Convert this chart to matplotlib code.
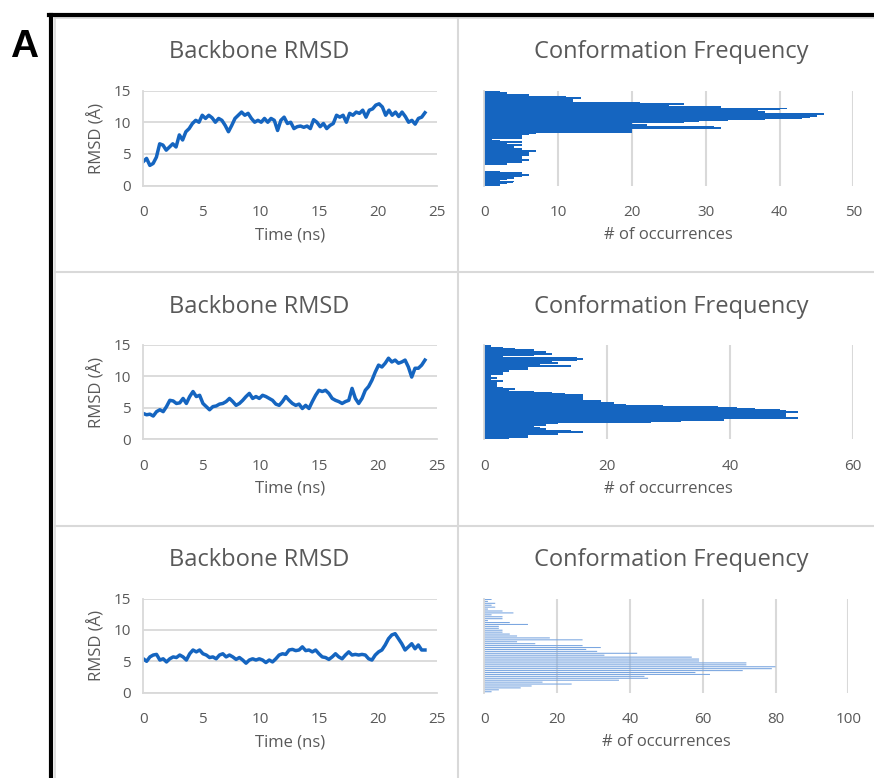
import numpy as np
import matplotlib
matplotlib.use("Agg")
import matplotlib.pyplot as plt
from matplotlib.lines import Line2D

# RMSD traces (Angstrom), 0..24 ns
rmsd_1 = [3.8, 4.3, 3.2, 3.5, 4.5, 6.6, 6.4, 5.6, 6.1, 6.6, 6.1, 8.0, 7.2, 8.5, 9.0, 9.8,
          10.3, 10.0, 11.1, 10.6, 11.1, 10.7, 10.0, 10.6, 10.3, 9.5, 8.5, 9.5, 10.6, 11.1,
          11.6, 11.1, 11.4, 10.6, 10.0, 10.3, 10.0, 10.6, 10.0, 10.6, 10.3, 8.7, 10.3, 10.8,
          9.8, 10.0, 9.0, 9.3, 9.4, 9.2, 9.4, 9.0, 10.4, 10.0, 9.3, 9.8, 9.0, 9.5, 9.8, 11.1,
          10.8, 11.1, 10.0, 11.4, 11.1, 11.6, 11.4, 11.9, 10.8, 11.9, 12.1, 12.7, 12.9, 12.4,
          11.1, 11.9, 11.1, 11.6, 10.9, 11.6, 10.9, 10.0, 10.3, 9.7, 10.6, 10.8, 11.5]
rmsd_2 = [4.1, 3.9, 4.0, 3.7, 4.4, 4.7, 4.4, 5.2, 6.2, 6.1, 5.7, 5.8, 6.5, 5.7, 6.8, 7.6,
          6.8, 7.0, 5.7, 5.2, 4.7, 5.2, 5.3, 5.6, 5.7, 6.0, 6.5, 6.0, 5.4, 5.7, 6.2, 6.8,
          7.3, 6.5, 6.8, 6.5, 7.0, 6.8, 6.5, 6.2, 5.6, 5.4, 6.0, 6.8, 6.2, 5.7, 5.4, 5.6,
          4.9, 5.4, 4.9, 6.0, 7.0, 7.8, 7.6, 7.8, 7.3, 6.5, 6.2, 6.0, 5.7, 6.0, 6.2, 8.1,
          6.5, 5.7, 6.5, 7.8, 8.4, 9.4, 10.7, 11.8, 11.5, 12.1, 12.9, 12.3, 12.6, 12.1,
          12.3, 12.6, 11.5, 9.9, 11.3, 11.3, 11.8, 12.6]
rmsd_3 = [5.4, 5.0, 5.7, 6.0, 6.1, 5.2, 5.4, 4.9, 5.4, 5.7, 5.6, 6.0, 5.7, 5.2, 6.2, 6.8,
          6.5, 6.8, 6.2, 6.0, 5.6, 5.7, 5.4, 6.0, 6.2, 5.7, 6.0, 5.7, 5.3, 5.6, 5.2, 4.7,
          5.2, 5.4, 5.2, 5.4, 5.2, 4.8, 5.2, 4.9, 5.4, 6.0, 6.2, 6.1, 6.8, 6.9, 6.7, 6.8,
          7.3, 6.7, 6.8, 6.5, 6.8, 6.2, 5.7, 5.6, 5.3, 5.7, 6.2, 5.7, 5.4, 6.0, 6.5, 6.0,
          6.1, 6.0, 6.1, 6.0, 5.4, 5.2, 6.0, 6.5, 6.8, 7.6, 8.6, 9.2, 9.4, 8.6, 7.8, 6.8,
          7.3, 7.8, 7.0, 7.6, 6.8, 6.8]

# conformation counts per RMSD bin, listed from the top bin down
freq_1 = [2, 2, 3, 3, 6, 6, 10, 11, 13, 6, 12, 12, 12, 21, 27, 25, 22, 32, 32, 41, 40, 37,
          28, 38, 38, 46, 45, 45, 44, 43, 38, 33, 31, 29, 27, 17, 20, 22, 22, 31, 32, 20,
          20, 10, 20, 7, 6, 6, 5, 5, 5, 5, 1,
          1, 2, 5, 1, 3, 5, 3, 4, 2, 4, 5, 4, 7, 4, 6, 1, 6, 5, 3, 3, 5, 3, 6, 4, 5, 3, 3,
          0, 0, 0, 0, 0, 0, 0, 0,
          2, 5, 4, 6, 5, 4, 4, 3, 1, 2, 4, 3, 3, 2, 2]
freq_2 = [1, 0, 3, 5, 8, 7, 10, 10, 11, 8, 3, 15, 16, 15, 11, 6, 12, 9, 2, 14, 7, 7, 1, 4,
          3, 1, 3, 1, 1, 1, 2, 1, 3, 1, 2, 2, 1, 2, 2, 3, 5, 4, 8, 11, 13, 16, 16, 9, 16, 9,
          16, 19, 21, 21, 23, 29, 38, 41, 44, 48, 49, 51, 49, 43, 49, 46, 51, 35, 39, 32,
          27, 12, 10, 6, 8, 9, 10, 6, 14, 16, 9, 12, 7, 7, 4, 4]
freq_3 = [2, 1, 3, 2, 3, 1, 5, 8, 2, 5, 5, 1, 7, 12, 4, 4, 5, 5, 7, 9, 18, 27, 9, 14, 27,
          32, 28, 31, 42, 33, 57, 59, 59, 72, 72, 80, 79, 71, 58, 62, 44, 45, 37, 16, 24,
          13, 10, 4, 2]
freq_max = [50, 60, 100]
freq_step = [10, 20, 20]

W, H = 874, 778
BLUE = "#1565C0"
LIGHT_BLUE = "#7AA6E0"
GREY_TXT = "#595959"
GRID = "#D9D9D9"
FONT = "Open Sans"

fig = plt.figure(figsize=(W / 100, H / 100), dpi=100)


def box(x0, y0, x1, y1):
    # pixel box (top-left origin) -> figure fraction
    return [x0 / W, 1 - y1 / H, (x1 - x0) / W, (y1 - y0) / H]


def fline(xs, ys, color, lw):
    fig.add_artist(Line2D([x / W for x in xs], [1 - y / H for y in ys],
                          color=color, lw=lw, transform=fig.transFigure))


# chart borders + black frame
fline([55, 55], [18, H], GRID, 1.2)
fline([55, W], [18, 18], GRID, 1.2)
fline([458, 458], [18, H], GRID, 1.5)
fline([55, W], [271.5, 271.5], GRID, 1.5)
fline([55, W], [525.5, 525.5], GRID, 1.5)
fline([51, 51], [15, H], "black", 3.0)
fline([49, W], [15, 15], "black", 3.0)
fig.text(24 / W, 1 - 47 / H, "A", fontsize=28, fontweight="bold",
         family="Liberation Sans", ha="center", va="center")

tops = [90.5, 345.0, 598.5]
bots = [185.7, 439.3, 692.7]
hist_right = [853.3, 852.7, 848.3]
traces = [rmsd_1, rmsd_2, rmsd_3]
freqs = [freq_1, freq_2, freq_3]
bar_h = [1.0, 1.0, 0.55]
bar_col = [BLUE, BLUE, LIGHT_BLUE]
bar_aa = [False, False, True]

for r in range(3):
    top, bot = tops[r], bots[r]

    # RMSD trace
    ax = fig.add_axes(box(143.3, top, 436.7, bot))
    v = traces[r]
    t = np.linspace(0, 24, len(v))
    ax.plot(t, v, color=BLUE, lw=2.5, solid_joinstyle="round")
    ax.set_xlim(0, 25)
    ax.set_ylim(0, 15)
    ax.set_xticks(range(0, 26, 5))
    ax.set_yticks(range(0, 16, 5))
    ax.grid(axis="y", color=GRID, lw=1.3)
    ax.set_axisbelow(True)
    for s in ["top", "right"]:
        ax.spines[s].set_visible(False)
    for s in ["left", "bottom"]:
        ax.spines[s].set_color(GRID)
        ax.spines[s].set_linewidth(1.3)
    ax.tick_params(axis="x", length=0, labelsize=11, labelcolor=GREY_TXT, pad=14)
    ax.tick_params(axis="y", length=0, labelsize=11, labelcolor=GREY_TXT, pad=9)
    for lab in ax.get_xticklabels() + ax.get_yticklabels():
        lab.set_family(FONT)
    ax.set_xlabel("Time (ns)", fontsize=12, color=GREY_TXT, family=FONT, labelpad=5)
    ax.set_ylabel("RMSD (Å)", fontsize=12, color=GREY_TXT, family=FONT, labelpad=6)
    fig.text(259 / W, 1 - (top - 38) / H, "Backbone RMSD", fontsize=17,
             color=GREY_TXT, family=FONT, ha="center", va="center")

    # histogram
    hx = fig.add_axes(box(484.3, top, hist_right[r], bot))
    f = freqs[r][::-1]
    pos = np.arange(len(f))
    hx.barh(pos, f, height=bar_h[r], color=bar_col[r], lw=0,
            antialiased=bar_aa[r], snap=False)
    hx.set_ylim(-0.5, len(f) - 0.5)
    hx.set_xlim(0, freq_max[r])
    hx.set_xticks(range(0, freq_max[r] + 1, freq_step[r]))
    hx.set_yticks([])
    hx.grid(axis="x", color=GRID, lw=1.5)
    hx.set_axisbelow(True)
    for s in ["top", "right", "bottom"]:
        hx.spines[s].set_visible(False)
    hx.spines["left"].set_color(GRID)
    hx.spines["left"].set_linewidth(1.3)
    hx.tick_params(length=0, labelsize=11, labelcolor=GREY_TXT, pad=14)
    for lab in hx.get_xticklabels():
        lab.set_family(FONT)
    hx.set_xlabel("# of occurrences", fontsize=12, color=GREY_TXT, family=FONT, labelpad=5)
    fig.text(671 / W, 1 - (top - 38) / H, "Conformation Frequency", fontsize=17,
             color=GREY_TXT, family=FONT, ha="center", va="center")

fig.savefig("out.png", dpi=100)
